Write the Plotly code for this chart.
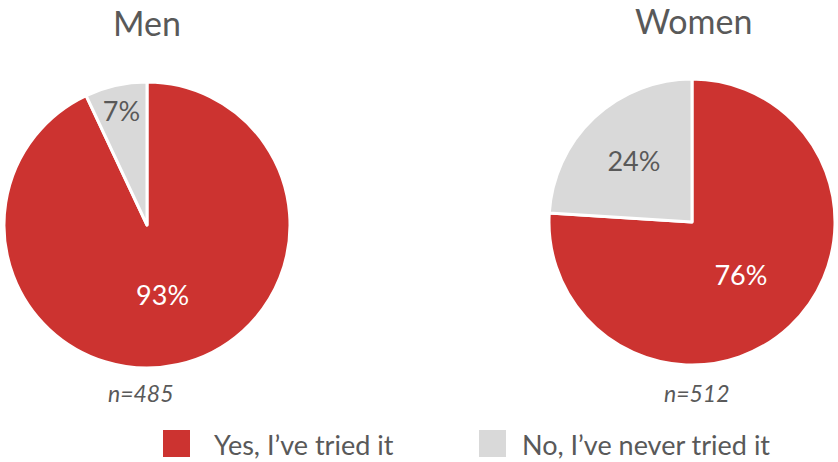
import plotly.graph_objects as go

labels = ["Yes, I\u2019ve tried it", "No, I\u2019ve never tried it"]
groups = ["Men", "Women"]
men = [93, 7]
women = [76, 24]
sample_sizes = [485, 512]

colors = ["#CC3330", "#D9D9D9"]
text_colors = ["#FFFFFF", "#595959"]
grey_text = "#595959"
font = "Lato, 'Open Sans', sans-serif"

W, H = 838, 462

# pie boxes in pixels (left, top, right, bottom)
boxes = [(4, 82, 290, 368), (549, 79, 835, 365)]

fig = go.Figure()
for i, (name, vals) in enumerate(zip(groups, [men, women])):
    l, t, r, b = boxes[i]
    fig.add_trace(go.Pie(
        labels=labels,
        values=vals,
        name=name,
        sort=False,
        direction="clockwise",
        rotation=0,
        marker=dict(colors=colors, line=dict(color="white", width=3)),
        texttemplate="%{value}%",
        textposition="inside",
        insidetextorientation="horizontal",
        textfont=dict(family=font, size=27, color=text_colors),
        hoverinfo="label+value",
        showlegend=False,
        domain=dict(x=[l / W, r / W], y=[1 - b / H, 1 - t / H]),
    ))

# titles and sample sizes
title_pos = [(147, 22), (693, 21)]
n_pos = [(141, 393), (697, 393)]
for i, name in enumerate(groups):
    fig.add_annotation(x=title_pos[i][0] / W, y=1 - title_pos[i][1] / H,
                       xref="paper", yref="paper", text=name, showarrow=False,
                       xanchor="center", yanchor="middle",
                       font=dict(family=font, size=34, color=grey_text))
    fig.add_annotation(x=n_pos[i][0] / W, y=1 - n_pos[i][1] / H,
                       xref="paper", yref="paper",
                       text="<i>n=%d</i>" % sample_sizes[i], showarrow=False,
                       xanchor="center", yanchor="middle",
                       font=dict(family=font, size=23, color=grey_text))

# legend: big square swatches like the original
swatch_x = [163, 479]
label_x = [212, 520]
for lab, col, sx, tx in zip(labels, colors, swatch_x, label_x):
    fig.add_shape(type="rect", xref="paper", yref="paper",
                  x0=sx / W, x1=(sx + 27) / W,
                  y0=1 - 457 / H, y1=1 - 430 / H,
                  fillcolor=col, line_width=0)
    fig.add_annotation(x=tx / W, y=1 - 444 / H, xref="paper", yref="paper",
                       text=lab, showarrow=False, xanchor="left", yanchor="middle",
                       font=dict(family=font, size=27, color=grey_text))

fig.update_layout(
    width=W,
    height=H,
    margin=dict(l=0, r=0, t=0, b=0, autoexpand=False),
    paper_bgcolor="white",
    plot_bgcolor="white",
    font=dict(family=font, color=grey_text),
    showlegend=False,
)

fig.write_html("out.html", config={"displayModeBar": False},
               post_script="document.body.style.margin='0px';")
